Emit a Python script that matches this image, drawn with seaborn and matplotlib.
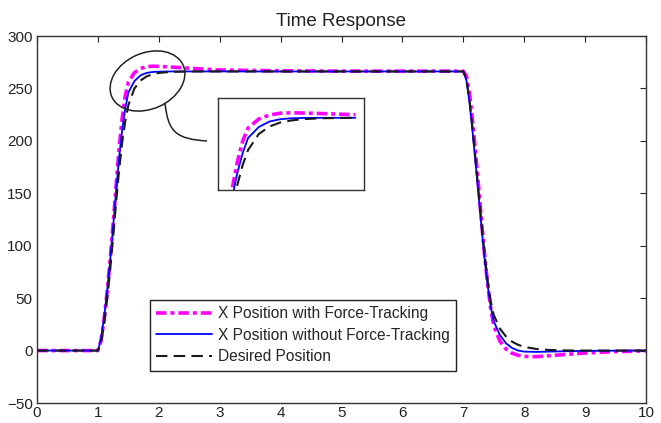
import matplotlib
matplotlib.use("Agg")
import matplotlib.pyplot as plt
import numpy as np
import pandas as pd
import seaborn as sns
from matplotlib.patches import Ellipse, PathPatch
from matplotlib.path import Path

# ---------------- data ----------------
time_s = [0.0, 1.0, 1.05, 1.1, 1.15, 1.2, 1.25, 1.3, 1.35, 1.4, 1.45, 1.5,
          1.6, 1.7, 1.8, 1.9, 2.0, 2.2, 2.5, 2.8, 3.0, 4.0, 5.0, 6.0, 7.0,
          7.05, 7.1, 7.15, 7.2, 7.25, 7.3, 7.35, 7.4, 7.45, 7.5,
          7.6, 7.7, 7.8, 7.9, 8.0, 8.2, 8.4, 8.7, 9.0, 9.5, 10.0]

with_force = [0, 0, 9, 29, 55, 86, 121, 158, 194, 222, 243, 256,
              265, 269, 270.8, 271.2, 271, 270.4, 269.3, 268.2, 267.6, 266.8, 266.5, 266.5, 266.5,
              262, 246, 220, 190, 157, 123, 91, 63, 40, 24,
              9, 1.5, -2.5, -4.5, -5.5, -5.8, -5, -3.6, -2.3, -1, -0.3]

without_force = [0, 0, 11, 31, 56, 85, 118, 153, 185, 211, 231, 246,
                 257, 262.5, 264.8, 265.7, 266, 266.2, 266.2, 266.2, 266.2, 266.2, 266.2, 266.2, 266.2,
                 258, 238, 210, 180, 149, 117, 87, 62, 42, 28,
                 15, 7, 2.5, 0, -1, -1.3, -1, -0.6, -0.3, -0.1, 0]

desired = [0, 0, 7, 24, 48, 76, 108, 142, 173, 199, 219, 234,
           250, 257.5, 261.5, 263.5, 264.8, 265.8, 266.2, 266.2, 266.2, 266.2, 266.2, 266.2, 266.2,
           259, 240, 213, 183, 152, 121, 92, 67, 47, 34,
           21, 13.5, 8.5, 5.5, 3.5, 1.5, 0.6, 0.1, 0, 0, 0]

series_labels = ["X Position with Force-Tracking",
                 "X Position without Force-Tracking",
                 "Desired Position"]
x_ticks = list(range(0, 11))
y_ticks = list(range(-50, 301, 50))
title = "Time Response"

# ---------------- style ----------------
sns.set_style("white")
plt.rcParams['font.family'] = ['Liberation Sans', 'DejaVu Sans']

W, H = 661, 423
fig = plt.figure(figsize=(W / 100, H / 100), dpi=100)
ax = fig.add_axes([37 / W, 1 - 403 / H, 609 / W, 367 / H])

df = pd.DataFrame({"t": time_s, "with": with_force,
                   "without": without_force, "desired": desired})

styles = [
    dict(col="with", color="#ff00ff", lw=2.6, dash=(2.9, 1.1, 1.1, 1.1)),
    dict(col="without", color="#0000ff", lw=1.3, dash=None),
    dict(col="desired", color="#1a1a1a", lw=1.5, dash=(5.5, 3.0)),
]


def draw(axis, data, with_labels):
    for st, lab in zip(styles, series_labels):
        sns.lineplot(data=data, x="t", y=st["col"], ax=axis, color=st["color"],
                     linewidth=st["lw"], estimator=None, sort=False,
                     label=lab if with_labels else None, legend=False)
        line = axis.lines[-1]
        if st["dash"] is not None:
            line.set_linestyle((0, st["dash"]))


draw(ax, df, True)

ax.set_xlim(0, 10)
ax.set_ylim(-50, 300)
ax.set_xticks(x_ticks)
ax.set_yticks(y_ticks)
ax.set_xlabel("")
ax.set_ylabel("")
ax.tick_params(direction="in", length=4.5, width=0.8, top=True, right=True,
               labelsize=11, colors="#222222", pad=3)
ax.tick_params(axis="x", pad=2)
for s in ax.spines.values():
    s.set_color("#333333")
    s.set_linewidth(1.0)
ax.set_title(title, fontsize=13.5, color="#222222", pad=7)

leg = ax.legend(loc="upper left", bbox_to_anchor=(150 / W, 1 - 300 / H),
                bbox_transform=fig.transFigure, borderaxespad=0, fontsize=11.2,
                handlelength=3.6, handletextpad=0.4, labelspacing=0.42,
                borderpad=0.4, fancybox=False, framealpha=1,
                edgecolor="#222222")
leg.get_frame().set_linewidth(1.0)

# ---------------- inset ----------------
ax_in = fig.add_axes([218 / W, 1 - 190 / H, 146 / W, 92 / H])
sub = df[(df["t"] >= 1.2) & (df["t"] <= 2.5)]
draw(ax_in, sub, False)
ax_in.set_xlim(1.22, 2.58)
ax_in.set_ylim(194, 286)
ax_in.set_xticks([])
ax_in.set_yticks([])
ax_in.set_xlabel("")
ax_in.set_ylabel("")
for s in ax_in.spines.values():
    s.set_color("#333333")
    s.set_linewidth(1.0)

# ---------------- annotation overlay (pixel coordinates) ----------------
ov = fig.add_axes([0, 0, 1, 1], facecolor="none")
ov.set_xlim(0, W)
ov.set_ylim(H, 0)
ov.axis("off")
ov.add_patch(Ellipse((147.5, 81), 78, 56, angle=-24, fill=False,
                     edgecolor="#222222", linewidth=1.1))
verts = [(165, 103), (168, 132), (176, 139), (207, 141)]
codes = [Path.MOVETO, Path.CURVE4, Path.CURVE4, Path.CURVE4]
ov.add_patch(PathPatch(Path(verts, codes), fill=False, edgecolor="#222222",
                       linewidth=1.1))

fig.savefig("out.png", dpi=100)
